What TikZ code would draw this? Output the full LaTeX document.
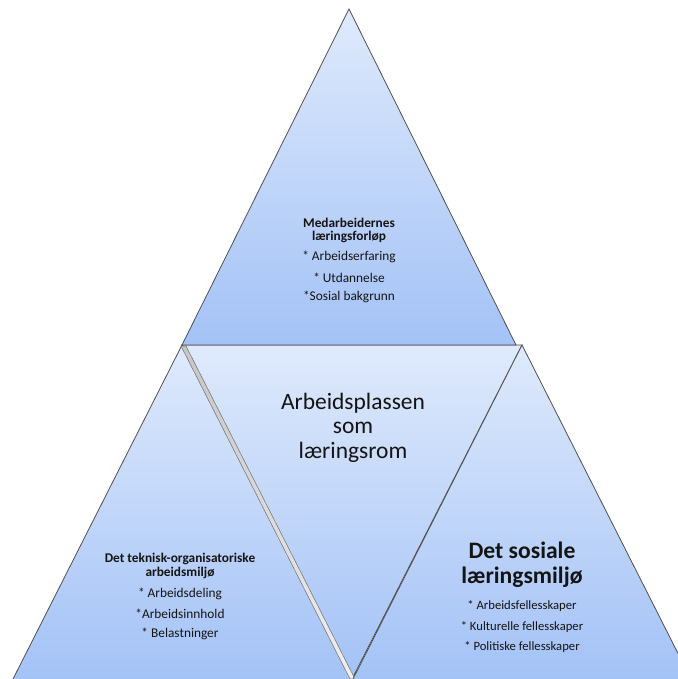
\documentclass[tikz,border=0pt]{standalone}
\usepackage{fontspec}
\setmainfont{Carlito}
\definecolor{tritop}{RGB}{223,234,252}
\definecolor{tribot}{RGB}{163,194,246}
\definecolor{edgegray}{RGB}{80,80,80}
\definecolor{txt}{RGB}{20,20,20}
\tikzset{
  tri/.style={draw=edgegray, line width=0.6pt, top color=tritop, bottom color=tribot, line join=miter},
  bevel/.style={draw=gray!90!black, line width=0.4pt, left color=gray!45, right color=gray!12},
  headsm/.style={font=\bfseries\fontsize{10}{12}\selectfont, text=txt, inner sep=0pt},
  itemsm/.style={font=\fontsize{10}{12}\selectfont, text=txt, inner sep=0pt},
  itemrt/.style={font=\fontsize{9.5}{11}\selectfont, text=txt, inner sep=0pt},
  headlg/.style={font=\bfseries\fontsize{17.7}{20}\selectfont, text=txt, inner sep=0pt},
  midlg/.style={font=\fontsize{17.6}{20}\selectfont, text=txt, inner sep=0pt}
}
\begin{document}
\begin{tikzpicture}[x=0.75pt,y=-0.75pt]
\clip (0,0) rectangle (678,679);
\fill[white] (0,0) rectangle (678,679);
% triangles
\draw[tri] (182,345) -- (12,681) -- (352,681) -- cycle;
\draw[tri] (182,345) -- (522,345) -- (352,679) -- cycle;
\draw[bevel] (181,346) -- (186,346) -- (355,679) -- (350,679) -- cycle;
\draw[tri] (522,345) -- (352,681) -- (692,681) -- cycle;
\draw[tri] (349,9) -- (182,345) -- (516,345) -- cycle;
% top text
\node[headsm] (t1) at (349,223) {Medarbeidernes};
\node[headsm] (t2) at (349,237) {læringsforløp};
\node[itemsm] (t3) at (349,257) {* Arbeidserfaring};
\node[itemsm] (t4) at (349,278) {* Utdannelse};
\node[itemsm] (t5) at (349,297) {*Sosial bakgrunn};
% middle text
\node[midlg] (m1) at (353,403) {Arbeidsplassen};
\node[midlg] (m2) at (353,428) {som};
\node[midlg] (m3) at (353,452) {læringsrom};
% left text
\node[headsm] (l1) at (180,559) {Det teknisk-organisatoriske};
\node[headsm] (l2) at (180,573) {arbeidsmiljø};
\node[itemsm] (l3) at (180,594) {* Arbeidsdeling};
\node[itemsm] (l4) at (180,614) {*Arbeidsinnhold};
\node[itemsm] (l5) at (180,634) {* Belastninger};
% right text
\node[headlg] (r1) at (522,550) {Det sosiale};
\node[headlg] (r2) at (522,577) {læringsmiljø};
\node[itemrt] (r3) at (522,606) {* Arbeidsfellesskaper};
\node[itemrt] (r4) at (522,627) {* Kulturelle fellesskaper};
\node[itemrt] (r5) at (522,647) {* Politiske fellesskaper};
\end{tikzpicture}
\end{document}
